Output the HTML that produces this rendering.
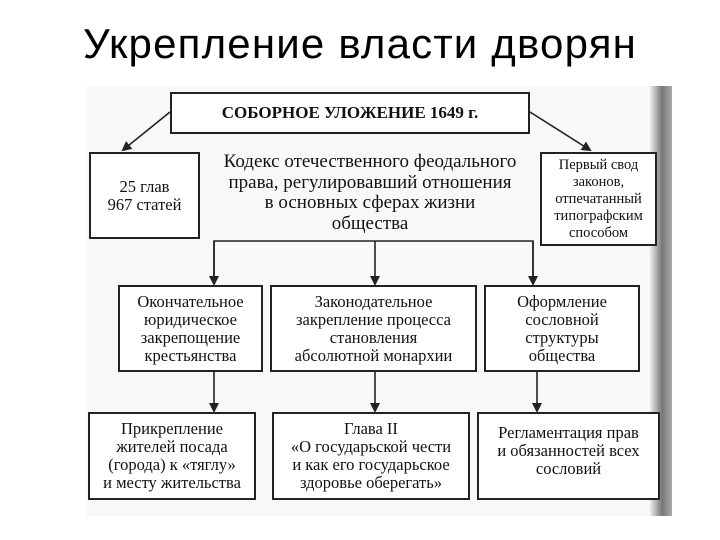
<!DOCTYPE html>
<html><head><meta charset="utf-8"><style>
body{margin:0;width:720px;height:540px;background:#fff;position:relative;overflow:hidden;font-family:"Liberation Serif","Noto Serif CJK SC",serif;color:#111}
.t{position:absolute;left:0;width:720px;top:20px;text-align:center;font-family:"Liberation Sans",sans-serif;font-size:42px;letter-spacing:1.2px;color:#000}
.b{position:absolute;border:2px solid #222;box-sizing:border-box;display:flex;align-items:center;justify-content:center;text-align:center;font-size:16.5px;line-height:18px;background:#fff;white-space:nowrap}
.scan{position:absolute;left:86px;top:86px;width:586px;height:430px;background:#f8f8f8}
.edge{position:absolute;left:650px;top:86px;width:22px;height:430px;background:linear-gradient(90deg,#eee,#777 55%,#aaa)}
svg{position:absolute;left:0;top:0}
</style></head><body>
<div class="t">Укрепление власти дворян</div>
<div class="scan"></div>
<div class="edge"></div>
<svg width="720" height="540">
<defs><marker id="a" markerWidth="10" markerHeight="10" refX="8" refY="5" orient="auto" markerUnits="userSpaceOnUse"><path d="M0,0 L10,5 L0,10 z" fill="#222"/></marker></defs>
<g stroke="#222" stroke-width="1.6" fill="none">
<line x1="170" y1="112" x2="123" y2="150" marker-end="url(#a)"/>
<line x1="530" y1="112" x2="590" y2="150" marker-end="url(#a)"/>
<polyline points="214,283 214,241 533,241 533,283"/>
<line x1="214" y1="241" x2="214" y2="284" marker-end="url(#a)"/>
<line x1="375" y1="241" x2="375" y2="284" marker-end="url(#a)"/>
<line x1="533" y1="241" x2="533" y2="284" marker-end="url(#a)"/>
<line x1="214" y1="372" x2="214" y2="411" marker-end="url(#a)"/>
<line x1="375" y1="372" x2="375" y2="411" marker-end="url(#a)"/>
<line x1="537" y1="372" x2="537" y2="411" marker-end="url(#a)"/>
</g></svg>
<div class="b" style="left:170px;top:92px;width:360px;height:42px;font-weight:bold;font-size:17px">СОБОРНОЕ УЛОЖЕНИЕ 1649 г.</div>
<div class="b" style="left:89px;top:152px;width:111px;height:87px">25 глав<br>967 статей</div>
<div style="position:absolute;left:200px;top:152px;width:340px;text-align:center;font-size:19px;line-height:20.5px;white-space:nowrap">Кодекс отечественного феодального<br>права, регулировавший отношения<br>в основных сферах жизни<br>общества</div>
<div class="b" style="left:540px;top:152px;width:117px;height:94px;font-size:14.5px;line-height:17px">Первый свод<br>законов,<br>отпечатанный<br>типографским<br>способом</div>
<div class="b" style="left:118px;top:285px;width:145px;height:87px">Окончательное<br>юридическое<br>закрепощение<br>крестьянства</div>
<div class="b" style="left:270px;top:285px;width:207px;height:87px">Законодательное<br>закрепление процесса<br>становления<br>абсолютной монархии</div>
<div class="b" style="left:484px;top:285px;width:156px;height:87px">Оформление<br>сословной<br>структуры<br>общества</div>
<div class="b" style="left:88px;top:412px;width:168px;height:88px">Прикрепление<br>жителей посада<br>(города) к «тяглу»<br>и месту жительства</div>
<div class="b" style="left:272px;top:412px;width:198px;height:88px">Глава II<br>«О государьской чести<br>и как его государьское<br>здоровье оберегать»</div>
<div class="b" style="left:477px;top:412px;width:183px;height:88px;align-items:flex-start;padding-top:10px">Регламентация прав<br>и обязанностей всех<br>сословий</div>
</body></html>
